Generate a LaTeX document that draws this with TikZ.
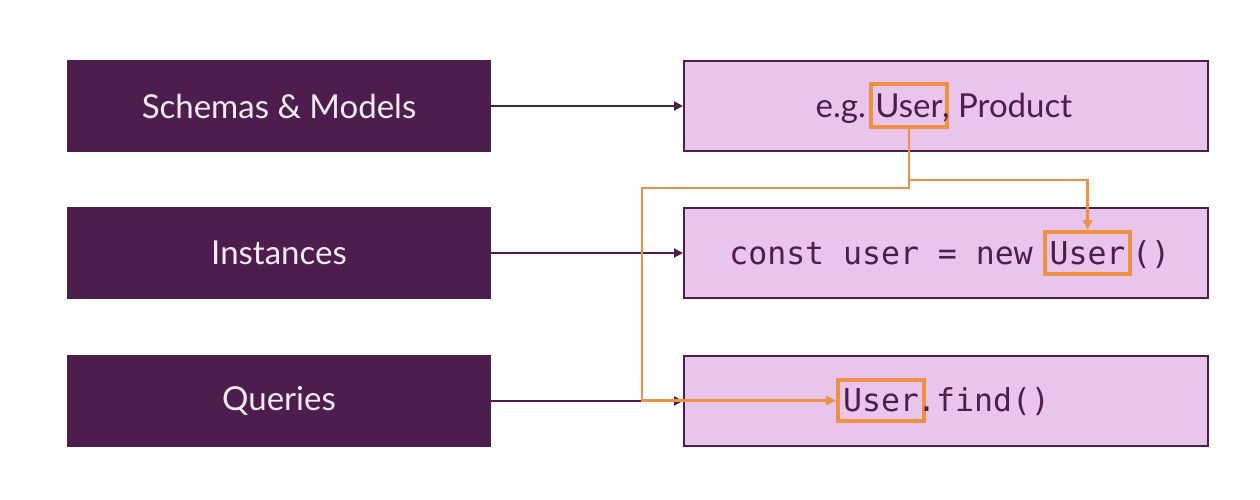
\documentclass[tikz,border=0pt]{standalone}
\usepackage{fontspec}
\setmainfont{Lato}
\setmonofont{DejaVu Sans Mono}
\usetikzlibrary{arrows.meta}
\definecolor{dpurple}{HTML}{4D1D4E}
\definecolor{lpink}{HTML}{E9C4EB}
\definecolor{ora}{HTML}{EF9143}
\definecolor{wtext}{HTML}{F5EAF5}
\begin{document}
\begin{tikzpicture}[x=1pt,y=-1pt,
  leftbox/.style={fill=dpurple, draw=none, minimum width=424pt, minimum height=92pt, inner sep=0pt, text=wtext, font=\fontsize{33}{40}\selectfont},
  rightbox/.style={fill=lpink, draw=dpurple, line width=2pt, minimum width=524pt, minimum height=90pt, inner sep=0pt},
  sanstxt/.style={inner sep=0pt, text=dpurple, font=\fontsize{33}{40}\selectfont},
  monotxt/.style={inner sep=0pt, text=dpurple, font=\ttfamily\fontsize{31.5}{36}\selectfont},
  ubox/.style={draw=ora, line width=4pt, inner sep=0pt},
  link/.style={draw=dpurple, line width=2pt, -{Triangle[length=9pt,width=9pt]}},
  olink/.style={draw=ora, line width=2.5pt, line join=miter},
  otip/.style={-{Triangle[length=10pt,width=9pt]}}
]
\useasboundingbox (0,0) rectangle (1260,499);
\fill[white] (0,0) rectangle (1260,499);

% left boxes
\node[leftbox] (l1) at (279,106) {Schemas \& Models};
\node[leftbox] (l2) at (279,253) {Instances};
\node[leftbox] (l3) at (279,401) {Queries};

% right boxes
\node[rightbox] (r1) at (946,106) {};
\node[rightbox] (r2) at (946,253) {};
\node[rightbox] (r3) at (946,401) {};

% arrows
\draw[link] (l1) -- (r1);
\draw[link] (l2) -- (r2);
\draw[link] (l3) -- (r3);

% top text
\node[ubox, sanstxt, minimum width=76pt, minimum height=43pt] (u1) at (909,105.5) {User};
\node[sanstxt, anchor=base east] (t1a) at ([xshift=-3pt]u1.base west) {e.g.};
\node[sanstxt, anchor=base west] (t1b) at ([xshift=-7pt]u1.base east) {,\ Product};

% middle text
\node[ubox, monotxt, minimum width=85pt, minimum height=42pt] (u2) at (1087.5,253) {User};
\node[monotxt, anchor=base east] (t2a) at ([xshift=-10pt]u2.base west) {const user = new};
\node[monotxt, anchor=base west] (t2b) at ([xshift=0pt]u2.base east) {()};

% bottom text
\node[ubox, monotxt, minimum width=86pt, minimum height=41pt] (u3) at (881,400.5) {User};
\node[monotxt, anchor=base west] (t3b) at ([xshift=-9pt]u3.base east) {.find()};

% orange connectors
\coordinate (c1) at (642,188);
\coordinate (b1) at (909,180);
\draw[olink, otip] (u1.south) |- (c1) |- (u3.west);
\draw[olink, otip] (b1) -| (u2.north);
\end{tikzpicture}
\end{document}
